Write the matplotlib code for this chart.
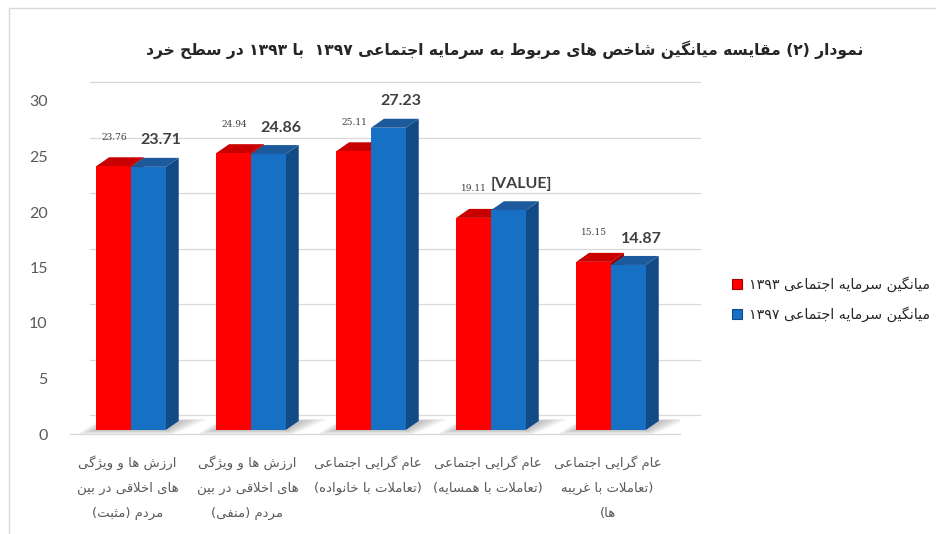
import re
import matplotlib
matplotlib.use("Agg")
import matplotlib.pyplot as plt
from matplotlib.patches import Polygon, Rectangle, Patch

# ---- data -------------------------------------------------------------
categories = [
    "ارزش ها و ویژگی\nهای اخلاقی در بین\nمردم (مثبت)",
    "ارزش ها و ویژگی\nهای اخلاقی در بین\nمردم (منفی)",
    "عام گرایی اجتماعی\n(تعاملات با خانواده)",
    "عام گرایی اجتماعی\n(تعاملات با همسایه)",
    "عام گرایی اجتماعی\n(تعاملات با غریبه\nها)",
]
series_names = ["میانگین سرمایه اجتماعی ۱۳۹۳", "میانگین سرمایه اجتماعی ۱۳۹۷"]
values_1393 = [23.76, 24.94, 25.11, 19.11, 15.15]
values_1397 = [23.71, 24.86, 27.23, 19.8, 14.87]
labels_1393 = ["23.76", "24.94", "25.11", "19.11", "15.15"]
labels_1397 = ["23.71", "24.86", "27.23", "[VALUE]", "14.87"]
yticks = [0, 5, 10, 15, 20, 25, 30]
title = "نمودار (۲) مقایسه میانگین شاخص های مربوط به سرمایه اجتماعی ۱۳۹۷  با ۱۳۹۳ در سطح خرد"

# ---- minimal arabic/persian shaping (matplotlib has no text shaping) ----
DUAL = {
    "ئ": "\uFE89\uFE8A\uFE8B\uFE8C", "ب": "\uFE8F\uFE90\uFE91\uFE92",
    "ت": "\uFE95\uFE96\uFE97\uFE98", "ث": "\uFE99\uFE9A\uFE9B\uFE9C",
    "ج": "\uFE9D\uFE9E\uFE9F\uFEA0", "ح": "\uFEA1\uFEA2\uFEA3\uFEA4",
    "خ": "\uFEA5\uFEA6\uFEA7\uFEA8", "س": "\uFEB1\uFEB2\uFEB3\uFEB4",
    "ش": "\uFEB5\uFEB6\uFEB7\uFEB8", "ص": "\uFEB9\uFEBA\uFEBB\uFEBC",
    "ض": "\uFEBD\uFEBE\uFEBF\uFEC0", "ط": "\uFEC1\uFEC2\uFEC3\uFEC4",
    "ظ": "\uFEC5\uFEC6\uFEC7\uFEC8", "ع": "\uFEC9\uFECA\uFECB\uFECC",
    "غ": "\uFECD\uFECE\uFECF\uFED0", "ف": "\uFED1\uFED2\uFED3\uFED4",
    "ق": "\uFED5\uFED6\uFED7\uFED8", "ك": "\uFED9\uFEDA\uFEDB\uFEDC",
    "ل": "\uFEDD\uFEDE\uFEDF\uFEE0", "م": "\uFEE1\uFEE2\uFEE3\uFEE4",
    "ن": "\uFEE5\uFEE6\uFEE7\uFEE8", "ه": "\uFEE9\uFEEA\uFEEB\uFEEC",
    "ي": "\uFEF1\uFEF2\uFEF3\uFEF4", "پ": "\uFB56\uFB57\uFB58\uFB59",
    "چ": "\uFB7A\uFB7B\uFB7C\uFB7D", "ک": "\uFB8E\uFB8F\uFB90\uFB91",
    "گ": "\uFB92\uFB93\uFB94\uFB95", "ی": "\uFBFC\uFBFD\uFBFE\uFBFF",
}
RIGHT = {
    "ا": "\uFE8D\uFE8E", "آ": "\uFE81\uFE82", "أ": "\uFE83\uFE84",
    "إ": "\uFE87\uFE88", "ؤ": "\uFE85\uFE86", "ة": "\uFE93\uFE94",
    "د": "\uFEA9\uFEAA", "ذ": "\uFEAB\uFEAC", "ر": "\uFEAD\uFEAE",
    "ز": "\uFEAF\uFEB0", "ژ": "\uFB8A\uFB8B", "و": "\uFEED\uFEEE",
}
LAM_ALEF = {"ا": "\uFEFB\uFEFC", "آ": "\uFEF5\uFEF6",
            "أ": "\uFEF7\uFEF8", "إ": "\uFEF9\uFEFA"}


def shape(s):
    out = []
    i = 0
    n = len(s)
    while i < n:
        c = s[i]
        prev = i > 0 and s[i - 1] in DUAL
        if c == "ل" and i + 1 < n and s[i + 1] in LAM_ALEF:
            out.append(LAM_ALEF[s[i + 1]][1 if prev else 0])
            i += 2
            continue
        if c in DUAL:
            nxt = i + 1 < n and (s[i + 1] in DUAL or s[i + 1] in RIGHT)
            out.append(DUAL[c][(1 if prev else 0) if not nxt else (3 if prev else 2)])
        elif c in RIGHT:
            out.append(RIGHT[c][1 if prev else 0])
        else:
            out.append(c)
        i += 1
    return "".join(out)


def rtl(text):
    lines = []
    for line in text.split("\n"):
        v = shape(line)[::-1]
        v = re.sub(r"[0-9\u06F0-\u06F9.]+", lambda m: m.group(0)[::-1], v)
        v = v.translate(str.maketrans("()", ")("))
        lines.append(v)
    return "\n".join(lines)


# ---- styling ----------------------------------------------------------
plt.rcParams["font.family"] = ["DejaVu Sans"]

red_front, red_top, red_side = "#FF0000", "#C80000", "#A00000"
blue_front, blue_top, blue_side = "#1670C4", "#1C5A9C", "#114A85"
grid_c = "#D9D9D9"
text_c = "#595959"

fig = plt.figure(figsize=(9.37, 5.34), dpi=100)
ax = fig.add_axes([70 / 937, 100 / 534, 610 / 937, 333 / 534])
xmin, xmax = -0.479, 4.604
ax.set_xlim(xmin, xmax)
ax.set_ylim(0, 30)

# 3d geometry in data units (120 px per category, 11.1 px per y unit)
w = 0.29          # bar width
dx, dy = 0.108, 0.81   # bar depth
ox, oy = 0.029, 0.36   # bar front offset from front plane
wx, wy = 0.167, 1.71   # back wall offset

# back-wall gridlines and floor edges
for t in yticks:
    ax.plot([xmin + wx, xmax + wx], [t + wy, t + wy], color=grid_c, lw=0.9,
            clip_on=False, zorder=0)
ax.plot([xmin, xmax], [0, 0], color=grid_c, lw=0.9, clip_on=False, zorder=0)

series = [(values_1393, red_front, red_top, red_side),
          (values_1397, blue_front, blue_top, blue_side)]

for i in range(len(categories)):
    x0 = i - w + ox
    # soft floor shadow
    for k in range(5):
        e = 0.012 * (5 - k)
        ax.add_patch(Polygon([(x0 - e * 2.5, oy - e * 6), (x0 + 2 * w + e, oy - e * 6),
                              (x0 + 2 * w + dx + e * 4, oy + dy + e * 3),
                              (x0 + dx - e, oy + dy + e * 3)],
                             closed=True, facecolor="#404040", alpha=0.07,
                             edgecolor="none", zorder=1))
    for j, (vals, cf, ct, cs) in enumerate(series):
        xl = x0 + j * w
        h = oy + vals[i]
        ax.add_patch(Polygon([(xl + w, oy), (xl + w + dx, oy + dy),
                              (xl + w + dx, h + dy), (xl + w, h)],
                             closed=True, facecolor=cs, edgecolor="none", zorder=2))
        ax.add_patch(Polygon([(xl, h), (xl + w, h), (xl + w + dx, h + dy),
                              (xl + dx, h + dy)],
                             closed=True, facecolor=ct, edgecolor="none", zorder=2))
        ax.add_patch(Rectangle((xl, oy), w, vals[i], facecolor=cf,
                               edgecolor="none", zorder=2))

    # value labels
    ax.annotate(labels_1393[i], (x0 + w / 2, oy + values_1393[i]),
                xytext=(0.5, 21), textcoords="offset points", ha="center",
                va="center", fontsize=6.5, family="DejaVu Serif", color="#404040",
                zorder=5)
    ax.annotate(labels_1397[i], (x0 + 1.5 * w, oy + values_1397[i]),
                xytext=(9, 19), textcoords="offset points", ha="center",
                va="center", fontsize=11.5, fontweight="bold", family="Lato",
                color="#404040", zorder=5)

# axes and ticks
for s in ax.spines.values():
    s.set_visible(False)
ax.set_yticks(yticks)
ax.set_yticklabels([str(t) for t in yticks], family="Lato")
ax.tick_params(axis="y", length=0, pad=16, labelsize=11.5, labelcolor=text_c)
ax.set_xticks(range(len(categories)))
ax.set_xticklabels([rtl(c) for c in categories], fontsize=9.5, color=text_c,
                   linespacing=2.2, multialignment="center")
ax.tick_params(axis="x", length=0, pad=15)

fig.text(505 / 937, 1 - 50 / 534, rtl(title), ha="center", va="center",
         fontsize=11.2, fontweight="bold", color="#262626")

handles = [Patch(facecolor=red_front, edgecolor=red_side, lw=0.8),
           Patch(facecolor=blue_front, edgecolor=blue_side, lw=0.8)]
fig.legend(handles, [rtl(n) for n in series_names], loc="center left",
           bbox_to_anchor=(719 / 937, 1 - 299 / 534), frameon=False,
           fontsize=10.3, handlelength=0.7, handleheight=0.7,
           handletextpad=0.5, labelspacing=1.0, labelcolor="#262626")

# outer chart border (top and left edges visible)
fig.patches.append(Rectangle((9 / 937, -0.1), 1.2, 1.1 - 8 / 534, fill=False,
                             edgecolor=grid_c, lw=1, transform=fig.transFigure))

fig.savefig("out.png", dpi=100, facecolor="white")
